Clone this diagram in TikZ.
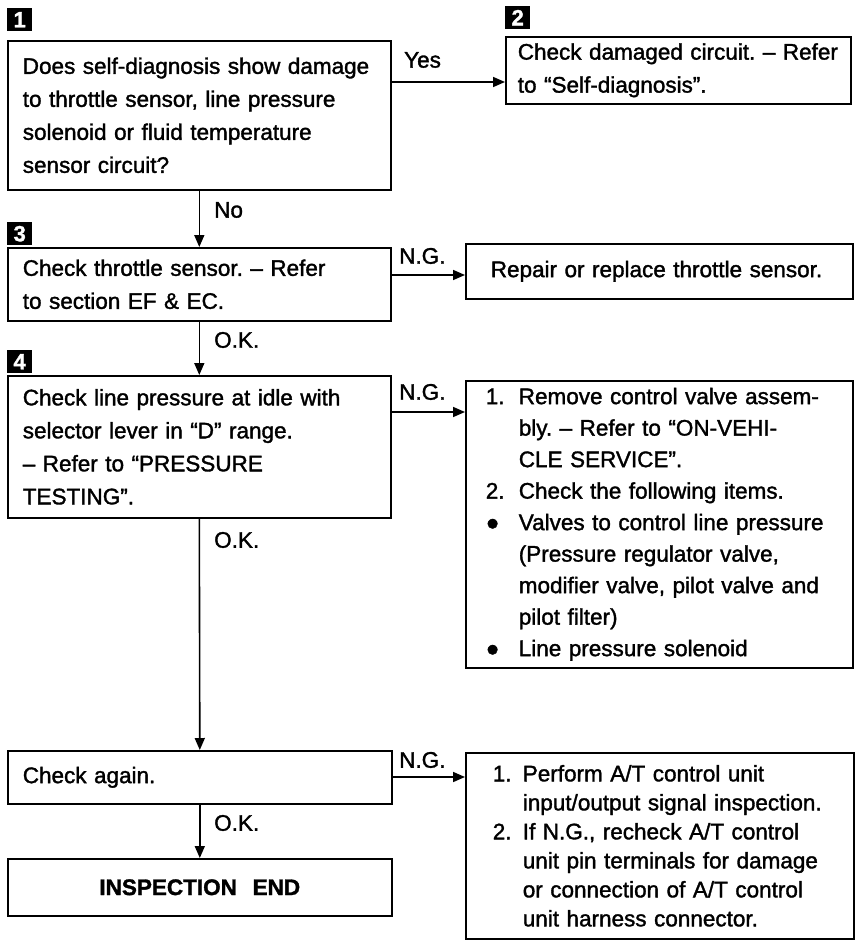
\documentclass[tikz,border=0pt]{standalone}
\usepackage{fontspec}
\setmainfont{Liberation Sans}[FakeBold=1.5]
\usetikzlibrary{arrows.meta}
\hyphenpenalty=10000
\exhyphenpenalty=10000
\frenchspacing
\begin{document}
\begin{tikzpicture}[x=1pt,y=-1pt,
  box/.style={draw, line width=1.6pt, anchor=north west, align=left,
    font=\fontsize{22.5}{33}\selectfont, inner ysep=0pt, inner xsep=3pt},
  arr/.style={line width=1.6pt, -{Triangle[length=12pt,width=10pt]}},
  lbl/.style={anchor=west, font=\fontsize{22.5}{33}\selectfont, inner sep=0pt},
  numbox/.style={fill=black, text=white, anchor=north west, minimum width=25pt,
    minimum height=23pt, inner sep=0pt, font=\fontsize{22}{22}\selectfont\bfseries}
]
\useasboundingbox (0,0) rectangle (857,952);

% markers
\node[numbox] (m1) at (7,8) {1};
\node[numbox] (m2) at (505,6) {2};
\node[numbox] (m3) at (7,222) {3};
\node[numbox] (m4) at (7,350) {4};

% boxes
\node[box, minimum width=383pt, minimum height=149pt, text width=377pt] (b1) at (7,40)
  {\leftskip=12pt\relax
   Does self-diagnosis show damage\\to throttle sensor, line pressure\\solenoid or fluid temperature\\sensor circuit?\par};
\node[box, minimum width=345pt, minimum height=67pt, text width=339pt] (b2) at (505,36)
  {\leftskip=9pt\relax
   Check damaged circuit. – Refer\\to “Self-diagnosis”.\par};
\node[box, minimum width=383pt, minimum height=73pt, text width=377pt] (b3) at (7,247)
  {\leftskip=12pt\relax
   Check throttle sensor. – Refer\\to section EF \& EC.\par};
\node[box, minimum width=387pt, minimum height=55pt, text width=381pt] (b3r) at (465,243)
  {\leftskip=22pt\relax
   Repair or replace throttle sensor.\par};
\node[box, minimum width=383pt, minimum height=142pt, text width=377pt] (b4) at (7,375)
  {\leftskip=12pt\relax
   Check line pressure at idle with\\selector lever in “D” range.\\– Refer to “PRESSURE\\TESTING”.\par};
\node[box, minimum width=387pt, minimum height=287pt, text width=381pt,
  font=\fontsize{22.5}{31.5}\selectfont] (b5) at (465,380)
  {\leftskip=17pt\relax
   \makebox[33pt][l]{1.}Remove control valve assem-\\
   \hspace*{33pt}bly. – Refer to “ON-VEHI-\\
   \hspace*{33pt}CLE SERVICE”.\\
   \makebox[33pt][l]{2.}Check the following items.\\
   \makebox[33pt][l]{●}Valves to control line pressure\\
   \hspace*{33pt}(Pressure regulator valve,\\
   \hspace*{33pt}modifier valve, pilot valve and\\
   \hspace*{33pt}pilot filter)\\
   \makebox[33pt][l]{●}Line pressure solenoid\par};
\node[box, minimum width=384pt, minimum height=53pt, text width=378pt] (b6) at (7,750)
  {\leftskip=12pt\relax
   Check again.\par};
\node[box, minimum width=384pt, minimum height=57pt, text width=378pt, align=center,
  font=\fontsize{22.5}{33}\selectfont\bfseries] (b7) at (7,858)
  {INSPECTION\hspace{0.7em}END};
\node[box, minimum width=388pt, minimum height=186pt, text width=382pt,
  font=\fontsize{22.5}{29}\selectfont] (b8) at (465,752)
  {\leftskip=24pt\relax
   \makebox[30pt][l]{1.}Perform A/T control unit\\
   \hspace*{30pt}input/output signal inspection.\\
   \makebox[30pt][l]{2.}If N.G., recheck A/T control\\
   \hspace*{30pt}unit pin terminals for damage\\
   \hspace*{30pt}or connection of A/T control\\
   \hspace*{30pt}unit harness connector.\par};

% connectors
\coordinate (y1) at (0,82);
\coordinate (y3) at (0,275);
\coordinate (y4) at (0,412);
\coordinate (y6) at (0,777);
\draw[arr] (b1.east |- y1) -- (b2.west |- y1);
\draw[arr] (b1.south) -- (b3.north);
\draw[arr] (b3.east |- y3) -- (b3r.west |- y3);
\draw[arr] (b3.south) -- (b4.north);
\draw[arr] (b4.east |- y4) -- (b5.west |- y4);
\draw[arr] (b4.south) -- (b6.north);
\draw[arr] (b6.east |- y6) -- (b8.west |- y6);
\draw[arr] (b6.south) -- (b7.north);

% labels
\node[lbl] (lyes) at (404,60) {Yes};
\node[lbl] (lno) at (214,210) {No};
\node[lbl] (lng3) at (399,256) {N.G.};
\node[lbl] (lok3) at (214,340) {O.K.};
\node[lbl] (lng4) at (399,392) {N.G.};
\node[lbl] (lok4) at (214,540) {O.K.};
\node[lbl] (lng6) at (399,760) {N.G.};
\node[lbl] (lok6) at (214,823) {O.K.};
\end{tikzpicture}
\end{document}
